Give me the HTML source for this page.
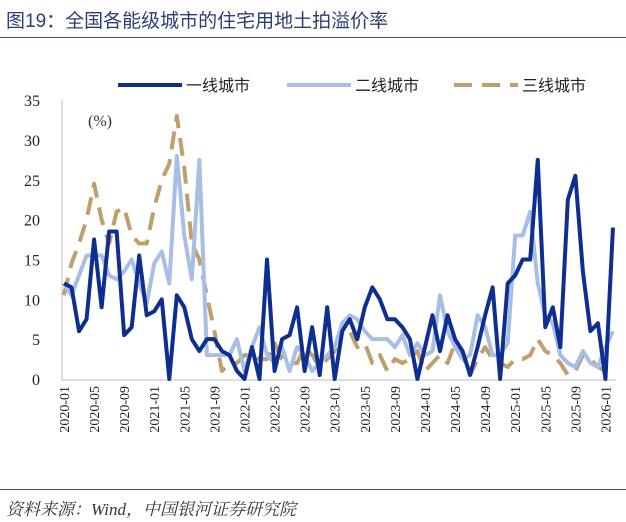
<!DOCTYPE html>
<html><head><meta charset="utf-8"><style>
body{margin:0;background:#fff;width:626px;height:522px;overflow:hidden;font-family:"Liberation Serif","Noto Serif CJK SC",serif}
.t{position:absolute;left:6px;top:6px;font-size:19px;color:#2b3f74;font-family:"Liberation Sans","Noto Sans CJK SC",sans-serif}
.l1{position:absolute;left:0;top:37px;width:626px;height:1px;background:#3d4f80}
.l2{position:absolute;left:0;top:489px;width:626px;height:1px;background:#3d4f80}
.f{position:absolute;left:6px;top:495px;font-size:17px;font-style:italic;color:#333}
</style></head><body>
<div class="t">图19：全国各能级城市的住宅用地土拍溢价率</div>
<div class="l1"></div>
<svg id="c" width="626" height="522" style="position:absolute;left:0;top:0"></svg>
<div class="l2"></div>
<div class="f">资料来源：Wind，中国银河证券研究院</div>
<script>
const tier1=[12,11.5,6,7.5,17.5,9,18.5,18.5,5.5,6.5,15.5,8,8.5,10,0,10.5,9,5,3.5,5,5,3.5,3,1,0,4,0,15,1,5,5.5,9,1,6.5,0.5,9,0,6,7.5,5,9,11.5,10,7.5,7.5,6.5,5,0,4,8,3.5,8,5,3.5,0.5,4,8,11.5,0,12,13,15,15,27.5,6.5,9,4,22.5,25.5,13.5,6,7,0,19];
const tier2=[12,10.5,13,15.5,15.5,15.5,13,12.5,13.5,15,12,9.5,14.5,16,12,28,18,12.5,27.5,3,3,3,3,5,1,4,6.5,3,2,4,1,4,3,1,2,3,4,7,8,7.5,6,5,5,5,4,5.5,3,4.5,3,3.5,10.5,6,4,2.5,3,8,6.5,3,3,4.5,18,18,21,12,8,7,3,2,1.5,3.5,2,1.5,4,6];
const tier3=[10.5,14.5,17,20,24.5,20,17,21,21.5,18,17,17,21.5,25,27,33,26.5,17,15,10.5,6,1,2,2,3,3,2.5,2.5,4.5,2.5,2,2,4,3,1.5,2.5,3.5,7,6,4,4.5,2,3,1,2.5,2,2.5,3.5,1,2,3,2,4.5,3,0.5,2.5,4,2.5,2,1.5,2.5,2.5,3,5,3.5,3,2,0.5,1,3,2.5,1.5,1,1];
const yTicks=[0,5,10,15,20,25,30,35];
const xLabels=["2020-01","2020-05","2020-09","2021-01","2021-05","2021-09","2022-01","2022-05","2022-09","2023-01","2023-05","2023-09","2024-01","2024-05","2024-09","2025-01","2025-05","2025-09","2026-01"];
const svg=document.getElementById('c');const NS='http://www.w3.org/2000/svg';
const X=i=>64+i*7.52, Y=v=>379-v*7.97;
function mk(t,a){const e=document.createElementNS(NS,t);for(const k in a)e.setAttribute(k,a[k]);svg.appendChild(e);return e;}
let ax=mk('line',{x1:62,y1:100,x2:62,y2:380,stroke:'#bbb','stroke-width':1});

let bx=mk('line',{x1:62,y1:380,x2:616,y2:380,stroke:'#bbb','stroke-width':1});

yTicks.forEach(v=>{const t=mk('text',{x:40,y:Y(v)+6,'text-anchor':'end','font-size':16,fill:'#222'});t.textContent=v;
});
xLabels.forEach((s,k)=>{const x=X(k*4)+5,y=386;const t=mk('text',{x:x,y:y,'text-anchor':'end','font-size':14,fill:'#222',transform:`rotate(-90 ${x} ${y})`});t.textContent=s;
});
const u=mk('text',{x:88,y:126,'font-size':16,fill:'#333'});u.textContent='(%)';

function line(d,c,w,dash,name){const p=mk('polyline',{points:d.map((v,i)=>X(i)+','+Y(v)).join(' '),fill:'none',stroke:c,'stroke-width':w,'stroke-linejoin':'round'});if(dash)p.setAttribute('stroke-dasharray',dash);
}
line(tier3,'#bf9f6c',4,'18 10','series-tier3');
line(tier2,'#a8bee4',4,null,'series-tier2');
line(tier1,'#0e2f91',4,null,'series-tier1');
const leg=[['一线城市','#0e2f91',null,118],['二线城市','#a8bee4',null,287],['三线城市','#bf9f6c','18 10',454]];
leg.forEach(([n,c,d,x])=>{const l=mk('line',{x1:x,y1:85,x2:x+64,y2:85,stroke:c,'stroke-width':4});if(d)l.setAttribute('stroke-dasharray',d);

const t=mk('text',{x:x+68,y:91,'font-size':16,fill:'#222','font-family':'"Liberation Sans","Noto Sans CJK SC",sans-serif'});t.textContent=n;
});
</script>
</body></html>
